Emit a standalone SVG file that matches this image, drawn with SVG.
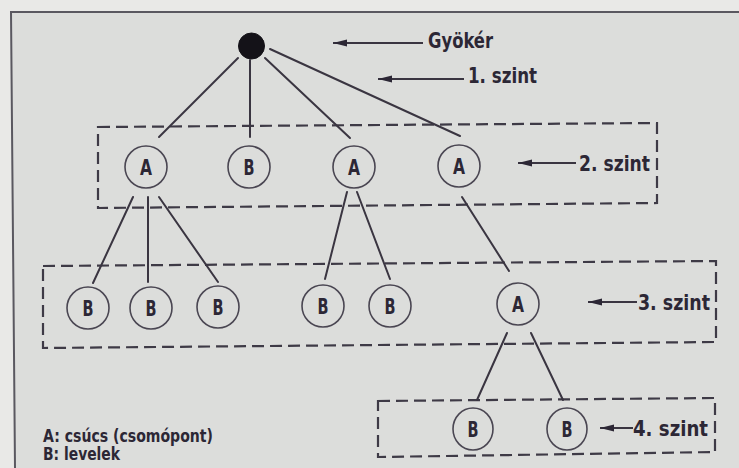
<svg xmlns="http://www.w3.org/2000/svg" width="739" height="468" viewBox="0 0 739 468">
<defs>
<style>
.bg{fill:#e9e9e7}
.inner{fill:#dcdddb}
.frame{stroke:#5a5860;stroke-width:2;fill:none}
.edge{stroke:#3a3541;stroke-width:2;fill:none;stroke-linecap:round}
.box{stroke:#3e3a46;stroke-width:2.2;fill:none;stroke-dasharray:12 6}
.node{fill:none;stroke:#4a4652;stroke-width:1.6}
.root{fill:#141218;stroke:#141218;stroke-width:1}
.lbl{font-family:"Liberation Sans Narrow","DejaVu Sans Condensed","Liberation Sans",sans-serif;font-weight:bold;fill:#2c2735}
.nl{font-size:21px;text-anchor:middle}
.lv{font-size:21px}
.lg{font-size:17px}
.arr{stroke:#3a3541;stroke-width:2;fill:none;marker-end:url(#ah)}
</style>
<marker id="ah" markerUnits="userSpaceOnUse" markerWidth="14" markerHeight="8" refX="14" refY="4" orient="auto">
<path d="M14,4 L0,0.5 L0,7.5 z" fill="#2c2735"/>
</marker>
</defs>
<rect class="bg" x="0" y="0" width="739" height="468"/>
<path class="inner" d="M11,12 L739,12 L739,468 L15,468 z"/>
<path class="frame" d="M739,12 L11,12 L15,468"/>

<g id="level-boxes">
<path id="box2" class="box" d="M98,127 L657,123 L657,203 L98,208 z"/>
<path id="box3" class="box" d="M43,266 L716,261 L716,342 L43,348 z"/>
<path id="box4" class="box" d="M378,401 L715,398 L715,452 L378,457 z"/>
</g>

<g id="connectors">
<line class="edge" x1="238" y1="58" x2="159" y2="137"/>
<line class="edge" x1="250" y1="60" x2="250" y2="137"/>
<line class="edge" x1="265" y1="58" x2="350" y2="138"/>
<line class="edge" x1="270" y1="49" x2="460" y2="136"/>
<line class="edge" x1="133" y1="197" x2="93" y2="283"/>
<line class="edge" x1="148" y1="197" x2="148" y2="282"/>
<line class="edge" x1="159" y1="197" x2="218" y2="282"/>
<line class="edge" x1="347" y1="192" x2="325" y2="279"/>
<line class="edge" x1="357" y1="192" x2="390" y2="279"/>
<line class="edge" x1="462" y1="197" x2="509" y2="271"/>
<line class="edge" x1="507" y1="333" x2="477" y2="400"/>
<line class="edge" x1="531" y1="333" x2="563" y2="400"/>
</g>

<g id="root"><ellipse class="root" cx="251.5" cy="46" rx="13" ry="13"/></g>

<g id="n2a1"><ellipse class="node" cx="146" cy="167" rx="21" ry="21"/><text class="lbl nl" x="146" y="175" textLength="12" lengthAdjust="spacingAndGlyphs">A</text></g>
<g id="n2b"><ellipse class="node" cx="249" cy="167" rx="21" ry="21"/><text class="lbl nl" x="249" y="175" textLength="11" lengthAdjust="spacingAndGlyphs">B</text></g>
<g id="n2a2"><ellipse class="node" cx="354" cy="167" rx="21" ry="21"/><text class="lbl nl" x="354" y="175" textLength="12" lengthAdjust="spacingAndGlyphs">A</text></g>
<g id="n2a3"><ellipse class="node" cx="459" cy="166" rx="21" ry="21"/><text class="lbl nl" x="459" y="174" textLength="12" lengthAdjust="spacingAndGlyphs">A</text></g>

<g id="n3b1"><ellipse class="node" cx="88" cy="308" rx="21" ry="21"/><text class="lbl nl" x="88" y="316" textLength="11" lengthAdjust="spacingAndGlyphs">B</text></g>
<g id="n3b2"><ellipse class="node" cx="151" cy="308" rx="21" ry="21"/><text class="lbl nl" x="151" y="316" textLength="11" lengthAdjust="spacingAndGlyphs">B</text></g>
<g id="n3b3"><ellipse class="node" cx="218" cy="307" rx="21" ry="21"/><text class="lbl nl" x="218" y="315" textLength="11" lengthAdjust="spacingAndGlyphs">B</text></g>
<g id="n3b4"><ellipse class="node" cx="323" cy="306" rx="21" ry="21"/><text class="lbl nl" x="323" y="314" textLength="11" lengthAdjust="spacingAndGlyphs">B</text></g>
<g id="n3b5"><ellipse class="node" cx="390" cy="306" rx="21" ry="21"/><text class="lbl nl" x="390" y="314" textLength="11" lengthAdjust="spacingAndGlyphs">B</text></g>
<g id="n3a"><ellipse class="node" cx="518" cy="304" rx="21" ry="21"/><text class="lbl nl" x="518" y="312" textLength="12" lengthAdjust="spacingAndGlyphs">A</text></g>

<g id="n4b1"><ellipse class="node" cx="473" cy="429" rx="20" ry="21"/><text class="lbl nl" x="473" y="437" textLength="11" lengthAdjust="spacingAndGlyphs">B</text></g>
<g id="n4b2"><ellipse class="node" cx="567" cy="429" rx="20" ry="21"/><text class="lbl nl" x="567" y="437" textLength="11" lengthAdjust="spacingAndGlyphs">B</text></g>

<g id="labels">
<line class="arr" x1="423" y1="43" x2="333" y2="43"/>
<text class="lbl lv" x="428" y="48" textLength="65" lengthAdjust="spacingAndGlyphs">Gyökér</text>
<line class="arr" x1="464" y1="79" x2="378" y2="79"/>
<text class="lbl lv" x="468" y="83" textLength="69" lengthAdjust="spacingAndGlyphs">1. szint</text>
<line class="arr" x1="576" y1="163" x2="518" y2="163"/>
<text class="lbl lv" x="579" y="171" textLength="71" lengthAdjust="spacingAndGlyphs">2. szint</text>
<line class="arr" x1="637" y1="302" x2="588" y2="302"/>
<text class="lbl lv" x="638" y="310" textLength="72" lengthAdjust="spacingAndGlyphs">3. szint</text>
<line class="arr" x1="633" y1="428" x2="600" y2="428"/>
<text class="lbl lv" x="633" y="436" textLength="75" lengthAdjust="spacingAndGlyphs">4. szint</text>
</g>

<g id="legend">
<text class="lbl lg" x="43" y="442" textLength="170" lengthAdjust="spacingAndGlyphs">A: csúcs (csomópont)</text>
<text class="lbl lg" x="43" y="460" textLength="77" lengthAdjust="spacingAndGlyphs">B: levelek</text>
</g>
</svg>
